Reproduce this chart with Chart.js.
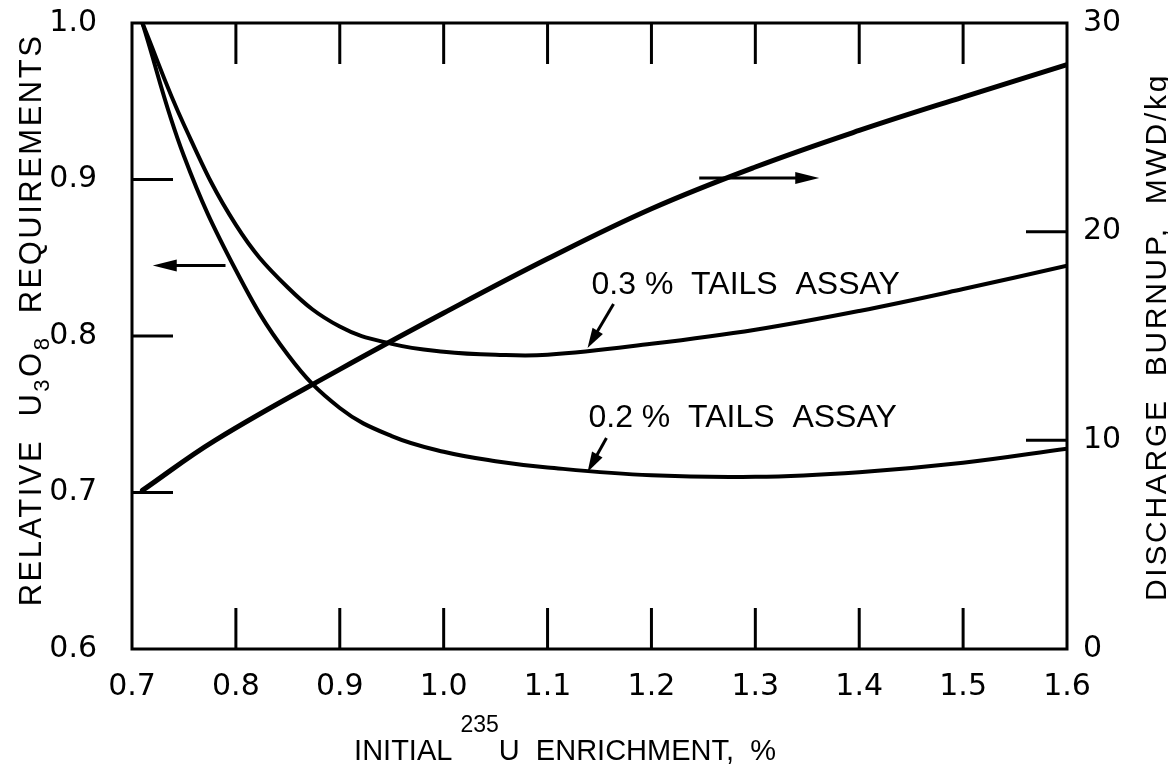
<!DOCTYPE html>
<html><head><meta charset="utf-8">
<script src="https://cdn.jsdelivr.net/npm/chart.js@4.4.1/dist/chart.umd.min.js"></script>
<style>html,body{margin:0;padding:0;background:#fff;} canvas{display:block;}</style>
</head><body>
<canvas id="c" width="1168" height="767"></canvas>
<script>
// ---- data ----
const enrichment03 = [0.71,0.75,0.80,0.85,0.90,0.95,1.00,1.05,1.10,1.20,1.30,1.40,1.50,1.60];
const u3o8Tails03  = [1.000,0.935,0.871,0.831,0.806,0.795,0.790,0.788,0.788,0.795,0.804,0.816,0.830,0.845];
const enrichment02 = [0.71,0.75,0.80,0.85,0.90,0.95,1.00,1.05,1.10,1.20,1.30,1.40,1.50,1.60];
const u3o8Tails02  = [1.000,0.915,0.842,0.788,0.754,0.736,0.726,0.720,0.716,0.711,0.710,0.713,0.719,0.728];
const enrichmentBurnup = [0.71,0.78,0.90,1.00,1.10,1.20,1.30,1.40,1.50,1.60];
const burnup           = [7.6,10.0,13.4,16.1,18.7,21.1,23.1,24.85,26.45,28.0];
const xTicks = [0.7,0.8,0.9,1.0,1.1,1.2,1.3,1.4,1.5,1.6];
const leftTicks = [0.6,0.7,0.8,0.9,1.0];
const rightTicks = [0,10,20,30];

const FONT = '"Liberation Sans", Arial, sans-serif';
const TICKFONT = '"DejaVu Sans", sans-serif';

function pts(xs, ys){ return xs.map((x,i)=>({x:x, y:ys[i]})); }

function drawArrow(ctx, x1,y1,x2,y2, headLen, headW){
  const a = Math.atan2(y2-y1, x2-x1);
  const bx = x2 - headLen*Math.cos(a), by = y2 - headLen*Math.sin(a);
  ctx.beginPath(); ctx.moveTo(x1,y1); ctx.lineTo(bx + 2*Math.cos(a), by + 2*Math.sin(a)); ctx.stroke();
  ctx.beginPath();
  ctx.moveTo(x2,y2);
  ctx.lineTo(bx + headW*Math.sin(a), by - headW*Math.cos(a));
  ctx.lineTo(bx - headW*Math.sin(a), by + headW*Math.cos(a));
  ctx.closePath(); ctx.fill();
}

function richText(ctx, segs, cx, cy, rot, spacing){
  ctx.save(); ctx.translate(cx, cy); ctx.rotate(rot);
  ctx.letterSpacing = spacing || '0px';
  ctx.textAlign = 'left'; ctx.textBaseline = 'alphabetic';
  let total = 0;
  segs.forEach(s=>{ ctx.font = s.font; s.w = ctx.measureText(s.t).width; total += s.w; });
  let x = -total/2;
  segs.forEach(s=>{ ctx.font = s.font; ctx.fillText(s.t, x, s.dy||0); x += s.w; });
  ctx.restore();
}

const decorPlugin = {
  id:'decor',
  afterDraw(chart){
    const ctx = chart.ctx, ca = chart.chartArea;
    const sx = chart.scales.x, sy = chart.scales.y, sr = chart.scales.y2;
    ctx.save();
    ctx.strokeStyle = '#000'; ctx.fillStyle = '#000';
    ctx.lineCap = 'butt';
    // frame
    ctx.lineWidth = 3;
    ctx.strokeRect(ca.left, ca.top, ca.right-ca.left, ca.bottom-ca.top);
    // inner tick marks
    const TL = 41;
    xTicks.slice(1,-1).forEach(v=>{
      const px = sx.getPixelForValue(v);
      ctx.beginPath(); ctx.moveTo(px, ca.top); ctx.lineTo(px, ca.top+TL); ctx.stroke();
      ctx.beginPath(); ctx.moveTo(px, ca.bottom); ctx.lineTo(px, ca.bottom-TL); ctx.stroke();
    });
    leftTicks.slice(1,-1).forEach(v=>{
      const py = sy.getPixelForValue(v);
      ctx.beginPath(); ctx.moveTo(ca.left, py); ctx.lineTo(ca.left+TL, py); ctx.stroke();
    });
    rightTicks.slice(1,-1).forEach(v=>{
      const py = sr.getPixelForValue(v);
      ctx.beginPath(); ctx.moveTo(ca.right, py); ctx.lineTo(ca.right-TL, py); ctx.stroke();
    });
    // axis-pointing arrows
    drawArrow(ctx, sx.getPixelForValue(0.79), sy.getPixelForValue(0.845), sx.getPixelForValue(0.72), sy.getPixelForValue(0.845), 24, 6);
    drawArrow(ctx, sx.getPixelForValue(1.246), sr.getPixelForValue(22.57), sx.getPixelForValue(1.3615), sr.getPixelForValue(22.57), 24, 6);
    // label pointers
    drawArrow(ctx, sx.getPixelForValue(1.1635), sy.getPixelForValue(0.8204), sx.getPixelForValue(1.1385), sy.getPixelForValue(0.7923), 20, 6);
    drawArrow(ctx, sx.getPixelForValue(1.1567), sy.getPixelForValue(0.7348), sx.getPixelForValue(1.1385), sy.getPixelForValue(0.7131), 20, 6);
    // curve labels
    ctx.font = '32px ' + FONT;
    ctx.textAlign = 'left'; ctx.textBaseline = 'alphabetic';
    ctx.fillText('0.3 %  TAILS  ASSAY', sx.getPixelForValue(1.1423), sy.getPixelForValue(0.8268));
    ctx.fillText('0.2 %  TAILS  ASSAY', sx.getPixelForValue(1.1394), sy.getPixelForValue(0.7419));
    // axis titles
    const big = '31px ' + FONT, small = '22px ' + FONT;
    richText(ctx, [
      {t:'RELATIVE  U', font:big}, {t:'3', font:small, dy:8}, {t:'O', font:big}, {t:'8', font:small, dy:8},
      {t:'  REQUIREMENTS', font:big}
    ], 41, 320, -Math.PI/2, '2.5px');
    richText(ctx, [{t:'DISCHARGE  BURNUP,  MWD/kg', font:'30px ' + FONT}], 1166, 337, -Math.PI/2, '2.7px');
    richText(ctx, [
      {t:'INITIAL ', font:'29px '+FONT}, {t:'235', font:'23px '+FONT, dy:-28}, {t:'U  ENRICHMENT,  %', font:'29px '+FONT}
    ], 565, 760, 0, '0px');
    ctx.restore();
  }
};

const tickFont = {family: TICKFONT, size: 30};
function fixV(w){ return s=>{ s.width = w; s.paddingTop = 0; s.paddingBottom = 0; }; }
new Chart(document.getElementById('c'), {
  type:'line',
  data:{ datasets:[
    {label:'0.3 % tails assay', data: pts(enrichment03, u3o8Tails03), yAxisID:'y', borderWidth:4},
    {label:'0.2 % tails assay', data: pts(enrichment02, u3o8Tails02), yAxisID:'y', borderWidth:4},
    {label:'Discharge burnup', data: pts(enrichmentBurnup, burnup), yAxisID:'y2', borderWidth:5}
  ]},
  options:{
    responsive:false, devicePixelRatio:1, animation:false,
    layout:{padding:{top:23, left:0, right:0, bottom:0}},
    plugins:{legend:{display:false}, tooltip:{enabled:false}},
    elements:{
      point:{radius:0},
      line:{borderColor:'#000', cubicInterpolationMode:'default', tension:0.4, borderCapStyle:'round', borderJoinStyle:'round', fill:false}
    },
    scales:{
      x:{type:'linear', min:0.7, max:1.6,
         grid:{display:false, drawTicks:false}, border:{display:false},
         afterBuildTicks: s=>{ s.ticks = xTicks.map(v=>({value:v})); },
         ticks:{padding:20, color:'#000', font:tickFont, maxRotation:0, autoSkip:false, callback:v=>Number(v).toFixed(1)},
         afterFit: s=>{ s.height = 118; s.paddingLeft = 0; s.paddingRight = 0; }},
      y:{type:'linear', position:'left', min:0.6, max:1.0,
         grid:{display:false, drawTicks:false}, border:{display:false},
         afterBuildTicks: s=>{ s.ticks = leftTicks.map(v=>({value:v})); },
         ticks:{padding:35, color:'#000', font:tickFont, callback:v=>Number(v).toFixed(1)},
         afterFit: fixV(132)},
      y2:{type:'linear', position:'right', min:0, max:30,
         grid:{display:false, drawTicks:false}, border:{display:false},
         afterBuildTicks: s=>{ s.ticks = rightTicks.map(v=>({value:v})); },
         ticks:{padding:16, color:'#000', font:tickFont, callback:v=>String(v)},
         afterFit: fixV(101)}
    }
  },
  plugins:[decorPlugin]
});
</script>
</body></html>
